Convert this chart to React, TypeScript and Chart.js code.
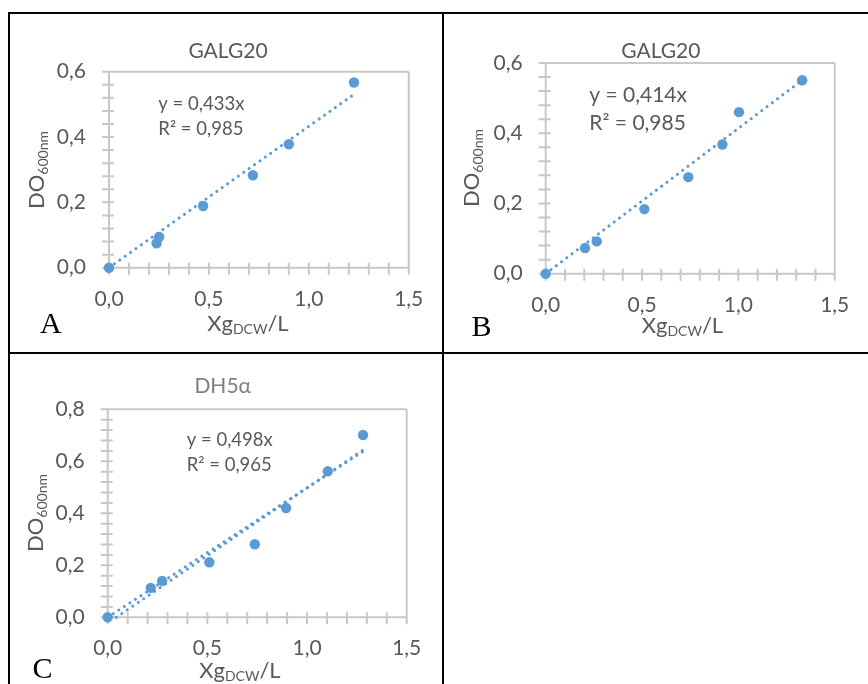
import React, { useEffect, useRef } from 'react';
import { Chart, registerables } from 'chart.js';

Chart.register(...registerables);

const FONT = 'Lato, Carlito, "Open Sans", sans-serif';
const BLUE = '#5B9BD5';
const AXIS = '#c8c8c8';
const TEXT = '#595959';

// GALG20, first series (panel A)
const galgAX = [0, 0.238, 0.251, 0.471, 0.72, 0.9, 1.226];
const galgAY = [0, 0.075, 0.094, 0.189, 0.283, 0.378, 0.567];
const galgASlope = 0.433;
const galgAR2 = '0,985';

// GALG20, second series (panel B)
const galgBX = [0, 0.204, 0.265, 0.512, 0.74, 0.917, 1.003, 1.331];
const galgBY = [0, 0.073, 0.092, 0.184, 0.275, 0.368, 0.46, 0.551];
const galgBSlope = 0.414;
const galgBR2 = '0,985';

// DH5α (panel C): through-origin fit plus a free-intercept fit
const dh5X = [0, 0.216, 0.273, 0.51, 0.738, 0.895, 1.104, 1.281];
const dh5Y = [0, 0.113, 0.14, 0.2115, 0.281, 0.4205, 0.5615, 0.701];
const dh5Slope = 0.498;
const dh5R2 = '0,965';
const dh5FitSlope = 0.52;
const dh5FitIntercept = -0.0225;

const X_MAX = 1.5;
const X_STEP = 0.5;
const X_MINOR = 0.1;
const Y_STEP = 0.2;
const Y_MINOR = 0.04;

const fmt = (v: number) => v.toFixed(1).replace('.', ',');
const eqText = (slope: number) => `y = ${slope.toFixed(3).replace('.', ',')}x`;

type Panel = {
  title: string;
  titleColor: string;
  xs: number[];
  ys: number[];
  slope: number;
  r2: string;
  fit?: { slope: number; intercept: number };
  yMax: number;
  letter: string;
  box: { left: number; top: number; width: number; height: number };
  area: { left: number; top: number; right: number; bottom: number };
  titlePos: [number, number];
  eqPos: [number, number, number];
  eqSize: number;
  xTitlePos: [number, number];
  yTitlePos: [number, number];
  letterPos: [number, number];
};

const panels: Panel[] = [
  {
    title: 'GALG20', titleColor: TEXT, xs: galgAX, ys: galgAY, slope: galgASlope, r2: galgAR2,
    yMax: 0.6, letter: 'A',
    box: { left: 10, top: 14, width: 432, height: 338 },
    area: { left: 109, top: 71.7, right: 409.7, bottom: 267.7 },
    titlePos: [228, 58.3], eqPos: [158.3, 110, 135], eqSize: 18.5,
    xTitlePos: [248, 330.7], yTitlePos: [44, 170], letterPos: [40, 333.3],
  },
  {
    title: 'GALG20', titleColor: TEXT, xs: galgBX, ys: galgBY, slope: galgBSlope, r2: galgBR2,
    yMax: 0.6, letter: 'B',
    box: { left: 444, top: 14, width: 424, height: 338 },
    area: { left: 545.7, top: 63, right: 842.3, bottom: 273.7 },
    titlePos: [660.8, 58.3], eqPos: [589.3, 101.7, 130], eqSize: 21,
    xTitlePos: [682.5, 333.3], yTitlePos: [479, 168], letterPos: [471.5, 336],
  },
  {
    title: 'DH5α', titleColor: '#7f7f7f', xs: dh5X, ys: dh5Y, slope: dh5Slope, r2: dh5R2,
    fit: { slope: dh5FitSlope, intercept: dh5FitIntercept },
    yMax: 0.8, letter: 'C',
    box: { left: 10, top: 354, width: 432, height: 330 },
    area: { left: 107.7, top: 409.3, right: 406.7, bottom: 617.3 },
    titlePos: [222.7, 393.3], eqPos: [186.7, 446, 470.7], eqSize: 18.5,
    xTitlePos: [240, 678.3], yTitlePos: [42.7, 513], letterPos: [32.5, 678.3],
  },
];

type Run = { text: string; size: number; dy: number };

function drawRuns(ctx: CanvasRenderingContext2D, runs: Run[], cx: number, y: number) {
  let total = 0;
  const widths = runs.map((r) => {
    ctx.font = `${r.size}px ${FONT}`;
    const w = ctx.measureText(r.text).width;
    total += w;
    return w;
  });
  let x = cx - total / 2;
  runs.forEach((r, i) => {
    ctx.font = `${r.size}px ${FONT}`;
    ctx.fillText(r.text, x, y + r.dy);
    x += widths[i];
  });
}

function makePlugins(p: Panel) {
  const ox = p.box.left;
  const oy = p.box.top;

  const frame = {
    id: 'plotFrame',
    beforeDatasetsDraw(chart: any) {
      const { ctx, chartArea: a, scales } = chart;
      ctx.save();
      ctx.strokeStyle = AXIS;
      ctx.lineWidth = 2;
      ctx.beginPath();
      ctx.moveTo(a.left - 7, a.top);
      ctx.lineTo(a.right, a.top);
      ctx.moveTo(a.right, a.top);
      ctx.lineTo(a.right, a.bottom + 7);
      ctx.moveTo(a.left, a.top);
      ctx.lineTo(a.left, a.bottom);
      ctx.moveTo(a.left, a.bottom);
      ctx.lineTo(a.right, a.bottom);
      const ny = Math.round(p.yMax / Y_MINOR);
      for (let i = 0; i <= ny; i++) {
        const py = scales.y.getPixelForValue(i * Y_MINOR);
        ctx.moveTo(a.left - 7, py);
        ctx.lineTo(a.left + 5, py);
      }
      const nx = Math.round(X_MAX / X_MINOR);
      for (let i = 0; i <= nx; i++) {
        const px = scales.x.getPixelForValue(i * X_MINOR);
        ctx.moveTo(px, a.bottom - 5);
        ctx.lineTo(px, a.bottom + 7);
      }
      ctx.stroke();
      ctx.restore();
    },
  };

  const labels = {
    id: 'panelText',
    afterDraw(chart: any) {
      const ctx: CanvasRenderingContext2D = chart.ctx;
      ctx.save();
      ctx.textBaseline = 'alphabetic';
      ctx.textAlign = 'left';

      // chart title
      ctx.fillStyle = p.titleColor;
      drawRuns(ctx, [{ text: p.title, size: 21, dy: 0 }], p.titlePos[0] - ox, p.titlePos[1] - oy);

      // trendline equation
      ctx.fillStyle = TEXT;
      ctx.font = `${p.eqSize}px ${FONT}`;
      ctx.fillText(eqText(p.slope), p.eqPos[0] - ox, p.eqPos[1] - oy);
      ctx.fillText(`R² = ${p.r2}`, p.eqPos[0] - ox, p.eqPos[2] - oy);

      // x axis title
      drawRuns(
        ctx,
        [
          { text: 'Xg', size: 22, dy: 0 },
          { text: 'DCW', size: 14, dy: 3 },
          { text: '/L', size: 22, dy: 0 },
        ],
        p.xTitlePos[0] - ox,
        p.xTitlePos[1] - oy,
      );

      // y axis title
      ctx.translate(p.yTitlePos[0] - ox, p.yTitlePos[1] - oy);
      ctx.rotate(-Math.PI / 2);
      drawRuns(
        ctx,
        [
          { text: 'DO', size: 22, dy: 0 },
          { text: '600nm', size: 14, dy: 4 },
        ],
        0,
        0,
      );
      ctx.restore();
    },
  };
  return [frame, labels];
}

function PanelChart({ p }: { p: Panel }) {
  const ref = useRef<HTMLCanvasElement | null>(null);

  useEffect(() => {
    const canvas = ref.current;
    if (!canvas) return;
    const { box, area } = p;
    const xEnd = Math.max(...p.xs);

    const trendStyle = {
      showLine: true,
      borderColor: BLUE,
      borderWidth: 3,
      borderDash: [0.1, 6.5],
      borderCapStyle: 'round',
      pointRadius: 0,
      clip: false,
    };

    const datasets: any[] = [
      {
        ...trendStyle,
        data: [
          { x: 0, y: 0 },
          { x: xEnd, y: p.slope * xEnd },
        ],
      },
    ];
    if (p.fit) {
      const x0 = -p.fit.intercept / p.fit.slope;
      datasets.push({
        ...trendStyle,
        data: [
          { x: x0, y: 0 },
          { x: xEnd, y: p.fit.slope * xEnd + p.fit.intercept },
        ],
      });
    }
    datasets.push({
      data: p.xs.map((x, i) => ({ x, y: p.ys[i] })),
      showLine: false,
      pointRadius: 5.2,
      pointHoverRadius: 5.2,
      backgroundColor: BLUE,
      borderWidth: 0,
      clip: false,
    });

    const tickFont = { family: FONT, size: 21 };
    const chart = new Chart(canvas, {
      type: 'scatter',
      data: { datasets },
      options: {
        animation: false,
        responsive: false,
        events: [],
        layout: {
          padding: {
            left: 0,
            top: area.top - box.top,
            right: box.left + box.width - area.right,
            bottom: 0,
          },
        },
        plugins: { legend: { display: false }, tooltip: { enabled: false }, title: { display: false } },
        scales: {
          x: {
            type: 'linear',
            min: 0,
            max: X_MAX,
            grid: { display: false, drawTicks: false },
            border: { display: false },
            ticks: {
              stepSize: X_STEP,
              padding: 18.7,
              color: TEXT,
              font: tickFont,
              maxRotation: 0,
              autoSkip: false,
              callback: (v: any) => fmt(Number(v)),
            },
            afterFit: (s: any) => {
              s.height = box.top + box.height - area.bottom;
            },
          },
          y: {
            type: 'linear',
            min: 0,
            max: p.yMax,
            grid: { display: false, drawTicks: false },
            border: { display: false },
            ticks: {
              stepSize: Y_STEP,
              padding: 23,
              color: TEXT,
              font: tickFont,
              callback: (v: any) => fmt(Number(v)),
            },
            afterFit: (s: any) => {
              s.width = area.left - box.left;
            },
          },
        },
      } as any,
      plugins: makePlugins(p) as any,
    });
    return () => chart.destroy();
  }, [p]);

  return (
    <canvas
      ref={ref}
      width={p.box.width}
      height={p.box.height}
      style={{
        position: 'absolute',
        left: p.box.left,
        top: p.box.top,
        width: p.box.width,
        height: p.box.height,
      }}
    />
  );
}

const line = (left: number, top: number, width: number, height: number) => (
  <div style={{ position: 'absolute', left, top, width, height, background: '#000' }} />
);

export default function App() {
  return (
    <div
      style={{
        position: 'absolute',
        left: 0,
        top: 0,
        width: 868,
        height: 684,
        overflow: 'hidden',
        background: '#fff',
      }}
    >
      {panels.map((p, i) => (
        <PanelChart key={i} p={p} />
      ))}
      {panels.map((p, i) => (
        <div
          key={'l' + i}
          style={{
            position: 'absolute',
            left: p.letterPos[0],
            top: p.letterPos[1] - 25.1,
            fontFamily: '"Liberation Serif", "Times New Roman", serif',
            fontSize: 30,
            lineHeight: '30px',
            color: '#000',
            whiteSpace: 'nowrap',
          }}
        >
          {p.letter}
        </div>
      ))}
      {line(8, 12, 860, 2)}
      {line(8, 12, 2, 672)}
      {line(442, 12, 2, 672)}
      {line(8, 352, 860, 2)}
    </div>
  );
}
